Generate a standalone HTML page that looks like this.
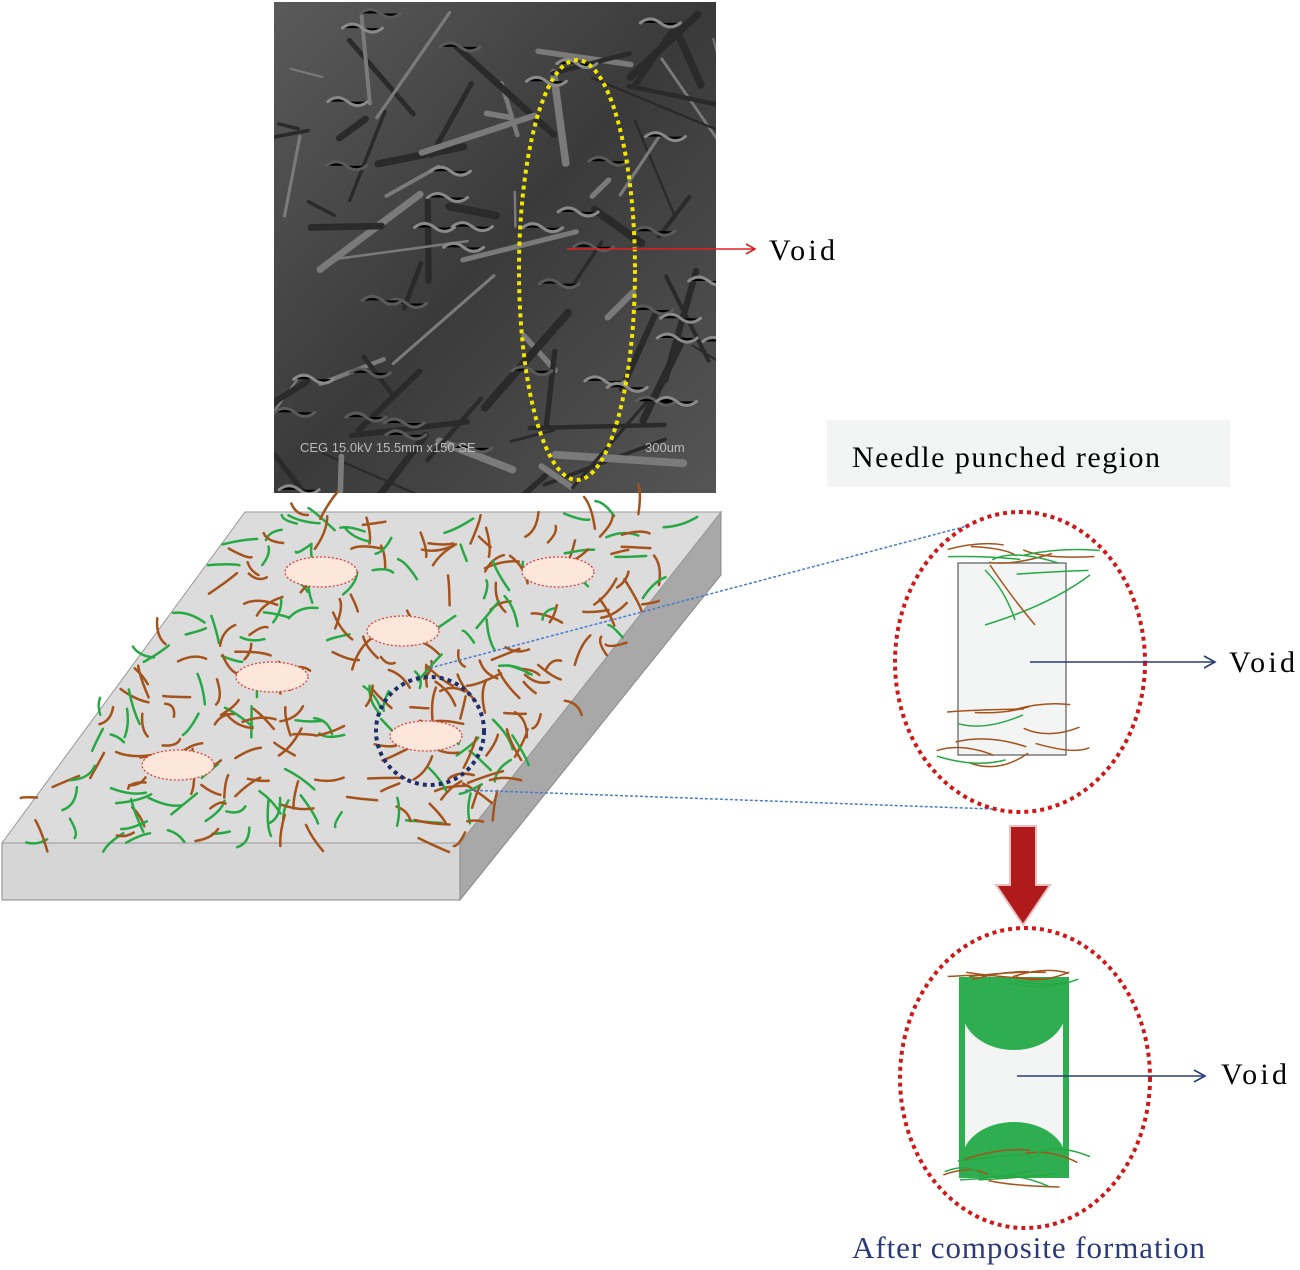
<!DOCTYPE html>
<html><head><meta charset="utf-8">
<style>
html,body{margin:0;padding:0;background:#fff;}
body{width:1300px;height:1270px;position:relative;overflow:hidden;font-family:"Liberation Serif",serif;}
svg{position:absolute;left:0;top:0;}
</style></head>
<body>
<svg id="s" width="1300" height="1270" viewBox="0 0 1300 1270" xmlns="http://www.w3.org/2000/svg">
<defs>
<linearGradient id="sem" x1="0" y1="0" x2="1" y2="1">
<stop offset="0" stop-color="#5a5a5a"/><stop offset="0.5" stop-color="#3a3a3a"/><stop offset="1" stop-color="#555"/>
</linearGradient>
<clipPath id="semclip"><rect x="274" y="2" width="442" height="491"/></clipPath>
<marker id="ar" markerWidth="12" markerHeight="12" refX="10" refY="6" orient="auto" markerUnits="userSpaceOnUse">
<path d="M1,1 L10,6 L1,11" fill="none" stroke="#e02020" stroke-width="1.6"/></marker>
<marker id="ab" markerWidth="14" markerHeight="14" refX="12" refY="7" orient="auto" markerUnits="userSpaceOnUse">
<path d="M1,1 L12,7 L1,13" fill="none" stroke="#2a3a7a" stroke-width="1.6"/></marker>
</defs>
<rect x="274" y="2" width="442" height="491" fill="url(#sem)"/>
<g id="semlines" stroke-linecap="round" clip-path="url(#semclip)"></g>
<text x="300" y="452" font-family="Liberation Sans,sans-serif" font-size="13" fill="#bbb">CEG 15.0kV 15.5mm x150 SE</text>
<text x="645" y="452" font-family="Liberation Sans,sans-serif" font-size="13" fill="#bbb">300um</text>
<ellipse cx="577" cy="270" rx="58" ry="210" fill="none" stroke="#f2e600" stroke-width="4" stroke-dasharray="4,4"/>
<line x1="567" y1="249" x2="755" y2="249" stroke="#e02020" stroke-width="1.5" marker-end="url(#ar)"/>
<text x="769" y="260" font-size="30" textLength="66" fill="#000">Void</text>

<rect x="827" y="420" width="403" height="67" fill="#f3f5f5"/>
<text x="852" y="467" font-size="30" textLength="308" fill="#000">Needle punched region</text>

<polygon points="460,843 721,512 721,575 460,900" fill="#a8a8a8" stroke="#888" stroke-width="1"/>
<polygon points="2,843 460,843 460,900 2,900" fill="#d6d6d6" stroke="#888" stroke-width="1"/>
<polygon points="245,512 721,512 460,843 2,843" fill="#dcdcdc" stroke="#999" stroke-width="1"/>
<g id="fib" fill="none" stroke-width="2.5" stroke-linecap="round"></g>
<g fill="#fde6da" stroke="#e04040" stroke-width="1.3" stroke-dasharray="2,2">
<ellipse cx="321" cy="572" rx="36" ry="15"/>
<ellipse cx="558" cy="572" rx="36" ry="15"/>
<ellipse cx="403" cy="631" rx="36" ry="15"/>
<ellipse cx="272" cy="677" rx="36" ry="15"/>
<ellipse cx="178" cy="765" rx="36" ry="15"/>
<ellipse cx="426" cy="736" rx="36" ry="15"/>
</g>
<circle cx="430" cy="731" r="54" fill="none" stroke="#1f2d6a" stroke-width="4" stroke-dasharray="4,4"/>
<line x1="430" y1="668" x2="1020" y2="512" stroke="#4a7ad0" stroke-width="1.5" stroke-dasharray="3,2"/>
<line x1="465" y1="790" x2="1020" y2="810" stroke="#4a7ad0" stroke-width="1.5" stroke-dasharray="3,2"/>

<ellipse cx="1020" cy="662" rx="125" ry="150" fill="#fff" stroke="#d01818" stroke-width="4" stroke-dasharray="4,4"/>
<rect x="958" y="563" width="108" height="192" fill="#f3f5f4" stroke="#666" stroke-width="1.3"/>
<g id="fz1" fill="none" stroke-width="1.5"></g>
<line x1="1030" y1="662" x2="1215" y2="662" stroke="#2a3a7a" stroke-width="1.5" marker-end="url(#ab)"/>
<text x="1229" y="672" font-size="30" textLength="66" fill="#000">Void</text>

<polygon points="1010,826 1036,826 1036,885 1050,885 1023,925 996,885 1010,885" fill="#b01a1a" stroke="#e8c0c0" stroke-width="2"/>

<ellipse cx="1025" cy="1078" rx="125" ry="150" fill="#fff" stroke="#d01818" stroke-width="4" stroke-dasharray="4,4"/>
<rect x="962" y="980" width="104" height="195" fill="#f3f5f4" stroke="#2eae50" stroke-width="6"/>
<path d="M962,983 L1066,983 L1066,1010 A52,40 0 0 1 962,1010 Z" fill="#2eae50"/>
<path d="M962,1174 L1066,1174 L1066,1160 A52,38 0 0 0 962,1160 Z" fill="#2eae50"/>
<g id="fz2" fill="none" stroke-width="1.5"></g>
<line x1="1017" y1="1076" x2="1205" y2="1076" stroke="#2a3a7a" stroke-width="1.5" marker-end="url(#ab)"/>
<text x="1221" y="1084" font-size="30" textLength="66" fill="#000">Void</text>
<text x="852" y="1258" font-size="31" textLength="353" fill="#2a3a7a">After composite formation</text>
</svg>
<script>
var seed=7;function r(){seed=(seed*16807)%2147483647;return (seed-1)/2147483646;}
var NS="http://www.w3.org/2000/svg";
function P(g,d,c,w){var p=document.createElementNS(NS,"path");p.setAttribute("d",d);p.setAttribute("stroke",c);if(w)p.setAttribute("stroke-width",w);g.appendChild(p);}
var sl=document.getElementById("semlines");
for(var i=0;i<70;i++){var x=274+r()*442,y=2+r()*491,a=r()*Math.PI,l=20+r()*120;
P(sl,"M"+x+","+y+"L"+(x+Math.cos(a)*l)+","+(y+Math.sin(a)*l),r()<0.5?"#7a7a7a":"#2a2a2a",2+r()*6);}
for(var i=0;i<40;i++){var x=274+r()*442,y=2+r()*491;P(sl,"M"+x+","+y+"q10,-8 20,0t20,0",r()<0.5?"#8a8a8a":"#5a5a5a",3);}
var g=document.getElementById("fib");
function inTop(x,y){if(y<512||y>843)return false;var t=(y-512)/331;var L=245-243*t,R=721-261*t;return x>L&&x<R;}
var n=0;while(n<280){var x=20+r()*700,y=505+r()*340;if(!inTop(x,y))continue;n++;
var a=r()*Math.PI*2,l=15+r()*22;var dx=Math.cos(a)*l,dy=Math.sin(a)*l;
var d="M"+x.toFixed(1)+","+y.toFixed(1)+" q"+(dx/2+(r()-0.5)*14).toFixed(1)+","+(dy/2+(r()-0.5)*14).toFixed(1)+" "+dx.toFixed(1)+","+dy.toFixed(1);
P(g,d,r()<0.62?"#a5531c":"#27a844");}
function zone(id,y0,y1,x0,x1,cnt){var z=document.getElementById(id);for(var i=0;i<cnt;i++){var x=x0+r()*(x1-x0),y=y0+r()*(y1-y0);
P(z,"M"+x+","+y+" q"+(20+r()*20)+","+((r()-0.5)*25)+" "+(40+r()*40)+","+((r()-0.5)*20),r()<0.6?"#a5531c":"#27a844");}}
zone("fz1",545,575,945,1040,8);zone("fz1",705,765,935,1040,10);
P(document.getElementById("fz1"),"M985,570 q20,20 30,50 M1090,575 q-40,30 -105,50","#27a844");
P(document.getElementById("fz1"),"M990,565 q20,30 45,60","#a5531c");
zone("fz2",965,985,945,1040,8);zone("fz2",1150,1185,940,1045,10);
</script>
</body></html>
